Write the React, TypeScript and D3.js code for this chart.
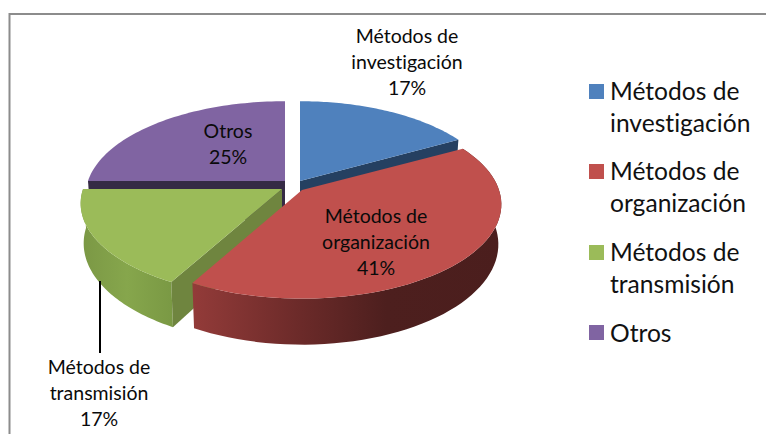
import React from "react";
import * as d3 from "d3";

const categories = ["Métodos de investigación", "Métodos de organización", "Métodos de transmisión", "Otros"];
const seriesValues = [17, 41, 17, 25];
const labelLines = [["Métodos de", "investigación"], ["Métodos de", "organización"], ["Métodos de", "transmisión"], ["Otros"]];
const topColors = ["#4f81bd", "#c0504d", "#9bbb59", "#8064a2"];
const faceColors = ["#254061", "#6d2c2a", "#6f853f", "#352a45"];
const pivots: [number, number][] = [[300, 181], [302, 190], [282, 189], [285, 181]];
const xScales = [0.985, 1, 1.01, 1];
const labelPos: [number, number][] = [[407, 43], [376, 223], [99, 374], [228, 138]];
const legendY = [92, 172, 253, 333];
const legendTextY = [[100, 132], [180, 212], [261, 293], [342]];

const R = 197, TILT = 92, K = 0.153, DEPTH = 39, BOTTOM_X = 0.985;
const arcs = d3.pie<number>().sort(null)(seriesValues);

function project(i: number, a: number, low = false): [number, number] {
  const c = pivots[i];
  const u = Math.sin(a), v = -Math.cos(a);
  const s = 1 / (1 - K * v);
  const bx = low ? BOTTOM_X : 1;
  return [c[0] + R * xScales[i] * u * s * bx, c[1] + TILT * v * s + (low ? DEPTH * s : 0)];
}
const line = d3.line();
function arcPts(i: number, a0: number, a1: number, low = false) {
  return d3.range(0, 61).map((k) => project(i, a0 + ((a1 - a0) * k) / 60, low));
}
const apex = (i: number, low = false): [number, number] => [pivots[i][0], pivots[i][1] + (low ? DEPTH : 0)];

function cutFace(i: number, a: number) {
  return line([apex(i), project(i, a), project(i, a, true), apex(i, true)]) + "Z";
}
function wall(i: number, a0: number, a1: number) {
  return line([...arcPts(i, a0, a1), ...arcPts(i, a0, a1, true).reverse()]) + "Z";
}
function top(i: number, a0: number, a1: number) {
  return line([apex(i), ...arcPts(i, a0, a1)]) + "Z";
}

const font = "Lato, Carlito, sans-serif";

export default function App() {
  const [blue, red, green, purple] = arcs;
  return (
    <svg width={766} height={434} style={{ position: "fixed", left: 0, top: 0, background: "#fff", fontVariantLigatures: "none" }} fontFamily={font}>
      <defs>
        <linearGradient id="redWall" gradientUnits="userSpaceOnUse" x1={192} x2={505} y1={0} y2={0}>
          <stop offset="0" stopColor="#933b39" />
          <stop offset="0.35" stopColor="#6b2a29" />
          <stop offset="0.62" stopColor="#4d1f1e" />
          <stop offset="1" stopColor="#4b1e1d" />
        </linearGradient>
        <linearGradient id="greenWall" gradientUnits="userSpaceOnUse" x1={82} x2={172} y1={0} y2={0}>
          <stop offset="0" stopColor="#7b9845" />
          <stop offset="0.5" stopColor="#86a64c" />
          <stop offset="1" stopColor="#7a9944" />
        </linearGradient>
      </defs>
      <path d="M9.5,434V14H766" fill="none" stroke="#8c8c8c" strokeWidth={2} />

      <path d={cutFace(3, purple.startAngle)} fill={faceColors[3]} />
      <path d={top(3, purple.startAngle, purple.endAngle)} fill={topColors[3]} />

      <path d={cutFace(0, blue.endAngle)} fill={faceColors[0]} />
      <path d={top(0, blue.startAngle, blue.endAngle)} fill={topColors[0]} />

      <path d={wall(2, green.startAngle, green.endAngle)} fill="url(#greenWall)" />
      <path d={cutFace(2, green.startAngle)} fill={faceColors[2]} />
      <path d={top(2, green.startAngle, green.endAngle)} fill={topColors[2]} />

      <path d={wall(1, red.startAngle, red.endAngle)} fill="url(#redWall)" />
      <path d={top(1, red.startAngle, red.endAngle)} fill={topColors[1]} />

      <line x1={100} x2={100} y1={281} y2={353} stroke="#000" strokeWidth={2} />

      {categories.map((_, i) => (
        <text key={i} textAnchor="middle" fontSize={19.5} fill="#0a0a0a">
          {[...labelLines[i], `${seriesValues[i]}%`].map((t, j) => (
            <tspan key={j} x={labelPos[i][0]} y={labelPos[i][1] + j * 26}>{t}</tspan>
          ))}
        </text>
      ))}

      {categories.map((_, i) => (
        <g key={i}>
          <rect x={589} y={legendY[i] - 8} width={15} height={15} fill={topColors[i]} />
          <text fontSize={24.6} fill="#111">
            {labelLines[i].map((t, j) => (
              <tspan key={j} x={610} y={legendTextY[i][j]}>{t}</tspan>
            ))}
          </text>
        </g>
      ))}
    </svg>
  );
}
